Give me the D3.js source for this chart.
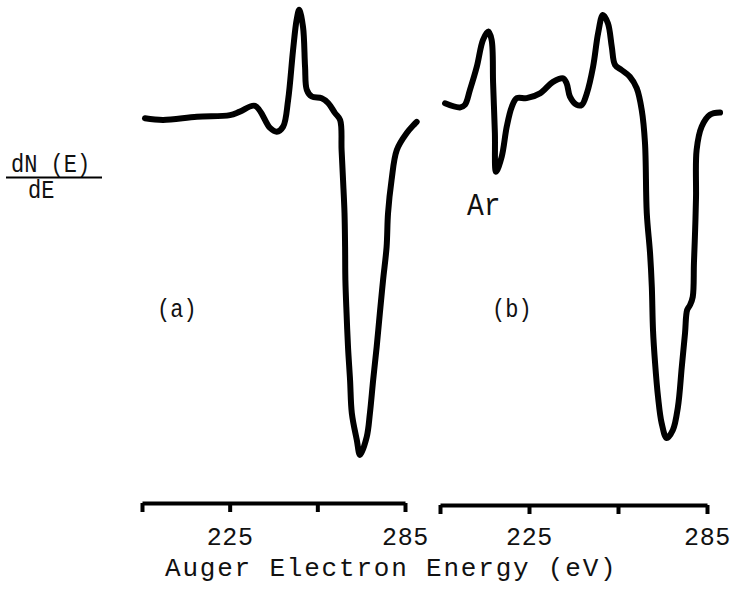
<!DOCTYPE html>
<html>
<head>
<meta charset="utf-8">
<script src="https://cdn.jsdelivr.net/npm/d3@7/dist/d3.min.js"></script>
<style>
  html, body { margin: 0; padding: 0; background: #fff; }
  svg { display: block; }
  text { font-family: "Liberation Mono", "Courier New", monospace; fill: #111; }
</style>
</head>
<body>
<svg id="chart" width="733" height="597"></svg>
<script>
// Auger spectra, dN(E)/dE in arbitrary units versus electron energy (eV)
const energyA = [196.0, 202.2, 213.8, 225.1, 228.5, 233.7, 238.8, 241.1, 243.3, 245.0,
  246.7, 247.9, 248.8, 250.1, 250.8, 251.4, 253.1, 256.5, 258.7, 261.0,
  262.8, 263.3, 263.8, 264.3, 264.5, 264.6, 265.0, 265.5, 266.2, 266.8,
  268.5, 269.6, 271.9, 273.0, 274.1, 275.3, 276.4, 277.5, 278.7, 279.2,
  280.4, 282.2, 285.6, 289.0];
const signalA = [-0.1, -0.6, 0.4, 0.9, 2.0, 3.8, -3.1, -4.3, -2.7, 5.6,
  21.3, 30.6, 33.8, 28.5, 16.0, 8.8, 6.7, 6.2, 4.7, 1.6,
  -0.6, -10.0, -19.4, -29.7, -40.3, -50.6, -61.0, -71.6, -81.9, -92.2,
  -100.6, -105.3, -99.7, -92.2, -81.9, -71.6, -60.9, -50.6, -40.3, -29.7,
  -19.4, -10.0, -4.7, -1.2];

const energyB = [196.7, 201.7, 203.4, 205.1, 207.4, 209.5, 211.3, 212.4, 212.9, 213.5,
  213.9, 215.8, 217.5, 219.2, 220.9, 224.2, 228.7, 233.1, 236.5, 237.7,
  238.8, 241.1, 242.8, 244.5, 246.6, 248.3, 249.9, 251.6, 252.9, 254.0,
  256.2, 259.0, 261.3, 263.0, 264.1, 264.7, 265.8, 266.4, 266.8, 267.5,
  268.5, 269.7, 271.4, 273.5, 275.2, 276.5, 277.6, 278.3, 279.3, 280.2,
  280.6, 281.0, 281.3, 281.5, 283.2, 286.0, 289.4];
const signalB = [4.6, 3.3, 4.1, 8.8, 16.0, 24.4, 27.0, 24.4, 10.9, -4.7,
  -16.8, -12.1, -2.7, 3.5, 6.2, 6.2, 7.7, 11.3, 12.4, 10.8,
  6.7, 4.1, 4.1, 7.7, 16.0, 26.5, 32.2, 29.6, 22.3, 16.6,
  15.0, 12.9, 9.3, 2.5, -7.8, -29.7, -42.2, -52.8, -66.3, -76.6,
  -87.2, -95.3, -100.0, -97.5, -90.3, -77.8, -67.2, -60.0, -58.4, -55.9,
  -45.3, -35.0, -24.7, -10.0, -2.7, 1.0, 1.7];

const tickValues = [195, 225, 255, 285];
const labeledTicks = [225, 285];
const energyDomain = [195, 285];

const svg = d3.select("#chart");

// typewriter lettering: slightly taller than the stock monospace glyphs
function tallText(sel, x, y, size, str, stretch = 1.15) {
  return sel.append("text")
    .attr("transform", `translate(${x},${y}) scale(1,${stretch})`)
    .attr("font-size", size)
    .text(str);
}

const y = d3.scaleLinear().domain([0, -100]).range([118, 438]);

const panels = [
  { name: "(a)", energy: energyA, signal: signalA, range: [142, 405], axisY: 503,
    tag: { x: 157, y: 317 } },
  { name: "(b)", energy: energyB, signal: signalB, range: [440, 707], axisY: 505,
    tag: { x: 492, y: 317 } }
];

panels.forEach(p => {
  const x = d3.scaleLinear().domain(energyDomain).range(p.range);

  const line = d3.line()
    .x((d, i) => x(p.energy[i]))
    .y(d => y(d))
    .curve(d3.curveCatmullRom.alpha(0.5));

  svg.append("path")
    .datum(p.signal)
    .attr("d", line)
    .attr("fill", "none")
    .attr("stroke", "#000")
    .attr("stroke-width", 6)
    .attr("stroke-linejoin", "round")
    .attr("stroke-linecap", "round");

  const axis = d3.axisBottom(x)
    .tickValues(tickValues)
    .tickSize(9)
    .tickSizeOuter(0)
    .tickFormat(d => labeledTicks.includes(d) ? String(d) : "");

  const g = svg.append("g")
    .attr("transform", `translate(0,${p.axisY})`)
    .call(axis);
  g.select(".domain").attr("stroke", "#000").attr("stroke-width", 4);
  g.selectAll(".tick line").attr("stroke", "#000").attr("stroke-width", 4);
  g.selectAll(".tick text")
    .attr("y", 545 - p.axisY)
    .attr("dy", 0)
    .attr("font-size", 25)
    .attr("letter-spacing", 0.6)
    .attr("font-family", "Liberation Mono, Courier New, monospace")
    .attr("fill", "#111");

  tallText(svg, p.tag.x, p.tag.y, 22, p.name);
});

tallText(svg, 467, 215, 28, "Ar");

// y-axis quantity written as a fraction
tallText(svg, 11, 172, 22, "dN (E)");
svg.append("line")
  .attr("x1", 6).attr("x2", 102)
  .attr("y1", 177.5).attr("y2", 177.5)
  .attr("stroke", "#000").attr("stroke-width", 2);
tallText(svg, 28, 198, 22, "dE");

svg.append("text")
  .attr("x", 165)
  .attr("y", 576)
  .attr("font-size", 26)
  .attr("letter-spacing", 1.8)
  .text("Auger Electron Energy (eV)");
</script>
</body>
</html>
